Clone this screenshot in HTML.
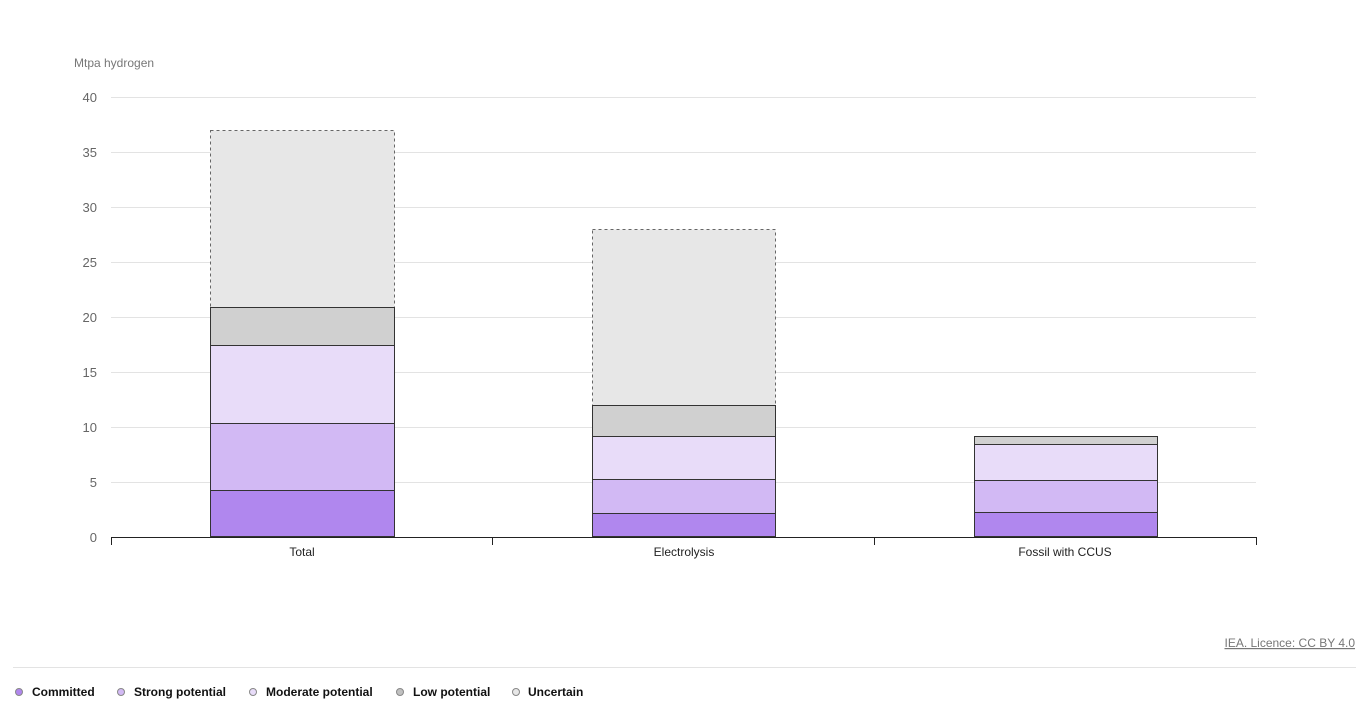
<!DOCTYPE html>
<html><head><meta charset="utf-8"><style>
body{margin:0;background:#fff;width:1370px;height:711px;overflow:hidden;font-family:"Liberation Sans",sans-serif}
</style></head><body>
<svg width="1370" height="711" xmlns="http://www.w3.org/2000/svg" font-family="Liberation Sans, sans-serif">
<text x="74" y="67" font-size="12" fill="#777">Mtpa hydrogen</text>
<g stroke="#e3e3e3" stroke-width="1">
<line x1="111" x2="1256" y1="97.5" y2="97.5"/><line x1="111" x2="1256" y1="152.5" y2="152.5"/>
<line x1="111" x2="1256" y1="207.5" y2="207.5"/><line x1="111" x2="1256" y1="262.5" y2="262.5"/>
<line x1="111" x2="1256" y1="317.5" y2="317.5"/><line x1="111" x2="1256" y1="372.5" y2="372.5"/>
<line x1="111" x2="1256" y1="427.5" y2="427.5"/><line x1="111" x2="1256" y1="482.5" y2="482.5"/>
</g>
<g font-size="13" fill="#666" text-anchor="end">
<text x="97" y="102">40</text><text x="97" y="157">35</text><text x="97" y="212">30</text><text x="97" y="267">25</text>
<text x="97" y="322">20</text><text x="97" y="377">15</text><text x="97" y="432">10</text><text x="97" y="487">5</text><text x="97" y="542">0</text>
</g>
<g stroke="#333" stroke-width="1">
<rect x="210.5" y="130.5" width="184" height="177" fill="#e7e7e7" stroke-dasharray="3,3" stroke="#666"/>
<rect x="210.5" y="307.5" width="184" height="38" fill="#d0d0d0"/>
<rect x="210.5" y="345.5" width="184" height="78" fill="#e8dcf9"/>
<rect x="210.5" y="423.5" width="184" height="67" fill="#d2b9f4"/>
<rect x="210.5" y="490.5" width="184" height="46" fill="#b087ee"/>
<rect x="592.5" y="229.5" width="183" height="176" fill="#e7e7e7" stroke-dasharray="3,3" stroke="#666"/>
<rect x="592.5" y="405.5" width="183" height="31" fill="#d0d0d0"/>
<rect x="592.5" y="436.5" width="183" height="43" fill="#e8dcf9"/>
<rect x="592.5" y="479.5" width="183" height="34" fill="#d2b9f4"/>
<rect x="592.5" y="513.5" width="183" height="23" fill="#b087ee"/>
<rect x="974.5" y="436.5" width="183" height="8" fill="#d0d0d0"/>
<rect x="974.5" y="444.5" width="183" height="36" fill="#e8dcf9"/>
<rect x="974.5" y="480.5" width="183" height="32" fill="#d2b9f4"/>
<rect x="974.5" y="512.5" width="183" height="24" fill="#b087ee"/>
</g>
<g stroke="#222" stroke-width="1">
<line x1="111" x2="1256" y1="537.5" y2="537.5"/>
<line x1="111.5" x2="111.5" y1="537" y2="545"/><line x1="492.5" x2="492.5" y1="537" y2="545"/>
<line x1="874.5" x2="874.5" y1="537" y2="545"/><line x1="1256.5" x2="1256.5" y1="537" y2="545"/>
</g>
<g font-size="12" fill="#222" text-anchor="middle">
<text x="302" y="556">Total</text><text x="684" y="556">Electrolysis</text><text x="1065" y="556">Fossil with CCUS</text>
</g>
<text x="1355" y="647" font-size="12" fill="#777" text-anchor="end" text-decoration="underline">IEA. Licence: CC BY 4.0</text>
<line x1="13" x2="1356" y1="667.5" y2="667.5" stroke="#e3e3e3"/>
<g font-size="12" fill="#111" font-weight="bold" stroke-width="1" stroke="#888">
<circle cx="19" cy="692" r="3.5" fill="#b087ee"/><text x="32" y="696" stroke="none">Committed</text>
<circle cx="121" cy="692" r="3.5" fill="#d2b9f4"/><text x="134" y="696" stroke="none">Strong potential</text>
<circle cx="253" cy="692" r="3.5" fill="#e8dcf9"/><text x="266" y="696" stroke="none">Moderate potential</text>
<circle cx="400" cy="692" r="3.5" fill="#c0c0c0"/><text x="413" y="696" stroke="none">Low potential</text>
<circle cx="516" cy="692" r="3.5" fill="#e7e7e7"/><text x="528" y="696" stroke="none">Uncertain</text>
</g>
</svg>
</body></html>
